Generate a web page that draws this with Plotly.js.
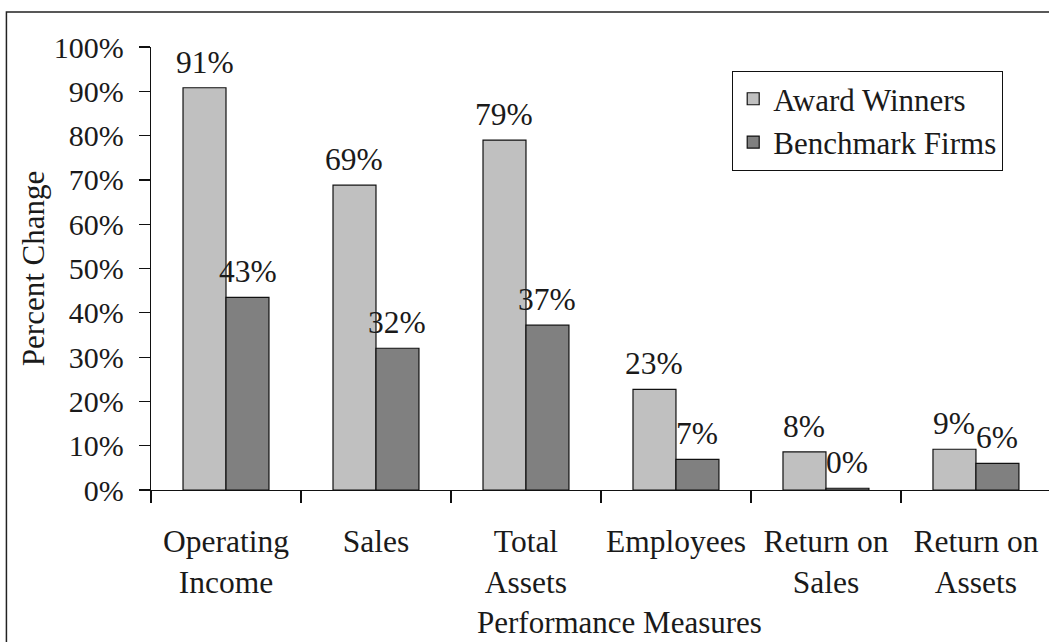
<!DOCTYPE html>
<html>
<head>
<meta charset="utf-8">
<script src="https://cdn.plot.ly/plotly-3.0.1.min.js"></script>
</head>
<body style="margin:0;padding:0;background:#fff">
<div id="chart" style="width:1049px;height:642px"></div>
<script>
// ---- data ----
var categories = ['Operating<br>Income', 'Sales', 'Total<br>Assets', 'Employees', 'Return on<br>Sales', 'Return on<br>Assets'];
var awardValues = [90.8, 68.8, 79.0, 22.7, 8.6, 9.2];
var benchValues = [43.5, 32.0, 37.2, 6.9, 0.4, 6.0];
var awardLabels = ['91%', '69%', '79%', '23%', '8%', '9%'];
var benchLabels = ['43%', '32%', '37%', '7%', '0%', '6%'];
var seriesNames = ['Award Winners', 'Benchmark Firms'];
var yTickVals = [0, 10, 20, 30, 40, 50, 60, 70, 80, 90, 100];
var yTickText = ['0%', '10%', '20%', '30%', '40%', '50%', '60%', '70%', '80%', '90%', '100%'];

var SERIF = 'Liberation Serif';
var TXT = '#1a1a1a';
function f(sz) { return {family: SERIF, size: sz, color: TXT}; }

var traces = [
  {type: 'bar', name: seriesNames[0], x: categories, y: awardValues,
   marker: {color: '#c0c0c0', line: {color: '#111', width: 1.2}}, hoverinfo: 'skip'},
  {type: 'bar', name: seriesNames[1], x: categories, y: benchValues,
   marker: {color: '#808080', line: {color: '#111', width: 1.2}}, hoverinfo: 'skip'}
];

var halfBar = 21.5;
var annotations = [];
categories.forEach(function (c, i) {
  annotations.push({x: c, y: awardValues[i], xref: 'x', yref: 'y', text: awardLabels[i],
    showarrow: false, xanchor: 'center', yanchor: 'bottom', xshift: -halfBar, yshift: 6, font: f(31.5)});
  annotations.push({x: c, y: benchValues[i], xref: 'x', yref: 'y', text: benchLabels[i],
    showarrow: false, xanchor: 'center', yanchor: 'bottom', xshift: halfBar, yshift: 6, font: f(31.5)});
});
annotations.push({x: 0.522, y: -0.300, xref: 'paper', yref: 'paper', text: 'Performance Measures',
  showarrow: false, xanchor: 'center', yanchor: 'middle', font: f(31)});

var layout = {
  width: 1049, height: 642,
  margin: {l: 151, r: 0, t: 47, b: 152, pad: 0},
  paper_bgcolor: '#fff', plot_bgcolor: '#fff',
  barmode: 'group', bargap: 0.427, bargroupgap: 0,
  showlegend: true,
  legend: {x: 0.647, y: 0.946, xanchor: 'left', yanchor: 'top',
    bordercolor: '#111', borderwidth: 1.2, bgcolor: '#fff', font: f(31), tracegroupgap: 0},
  xaxis: {type: 'category', range: [-0.5, 5.487], showline: true, linecolor: '#111', linewidth: 1.2,
    ticks: 'outside', tickson: 'boundaries', ticklen: 12, tickcolor: '#111', tickwidth: 1.2,
    showgrid: false, zeroline: false, ticklabelstandoff: 23, tickfont: f(31.5)},
  yaxis: {range: [0, 100], tickmode: 'array', tickvals: yTickVals, ticktext: yTickText,
    showline: true, linecolor: '#111', linewidth: 1.2,
    ticks: 'outside', ticklen: 11, tickcolor: '#111', tickwidth: 1.2, showgrid: false, zeroline: false,
    ticklabelstandoff: 9, tickfont: f(30),
    title: {text: 'Percent Change', standoff: 0, font: f(31)}},
  annotations: annotations,
  shapes: [{type: 'rect', xref: 'paper', yref: 'paper', x0: -0.161, x1: 1.2, y0: -0.5, y1: 1.079,
    line: {color: '#222', width: 1.5}, fillcolor: 'rgba(0,0,0,0)', layer: 'above'}]
};

Plotly.newPlot('chart', traces, layout, {displayModeBar: false, staticPlot: true});
</script>
</body>
</html>
